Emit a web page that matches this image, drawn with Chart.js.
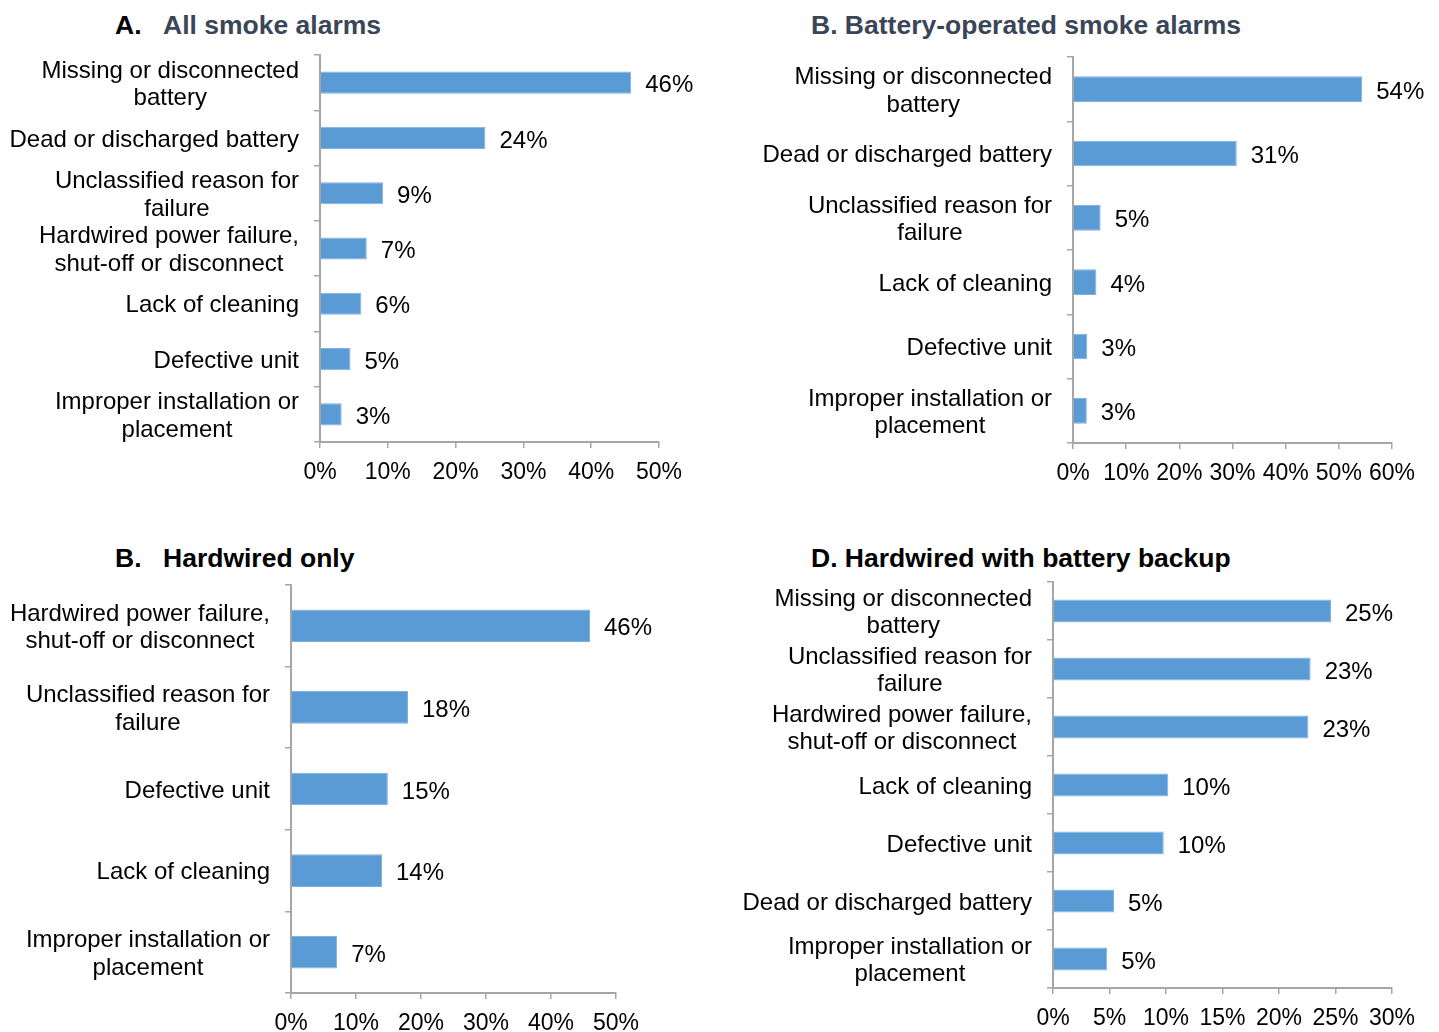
<!DOCTYPE html>
<html>
<head>
<meta charset="utf-8">
<script src="https://cdn.jsdelivr.net/npm/chart.js@4.4.1/dist/chart.umd.min.js"></script>
<style>
  body { margin: 0; background: #fff; }
  #wrap { position: relative; width: 1439px; height: 1032px; overflow: hidden; font-family: "Liberation Sans", Arial, sans-serif; }
  canvas { position: absolute; }
  .t { position: absolute; font-weight: bold; font-size: 26.5px; line-height: 30px; white-space: nowrap; }
  .slate { color: #3a4658; }
  .blk { color: #000; }
</style>
</head>
<body>
<div id="wrap">
  <span class="t blk" style="left:115px;top:10px">A.</span>
  <span class="t slate" style="left:163px;top:10px">All smoke alarms</span>
  <span class="t slate" style="left:811px;top:10px">B. Battery-operated smoke alarms</span>
  <span class="t blk" style="left:115px;top:543px">B.</span>
  <span class="t blk" style="left:163px;top:543px">Hardwired only</span>
  <span class="t blk" style="left:811px;top:543px">D. Hardwired with battery backup</span>

  <canvas id="cA" width="720" height="440" style="left:0;top:50px"></canvas>
  <canvas id="cB" width="709" height="440" style="left:730px;top:50px"></canvas>
  <canvas id="cC" width="720" height="457" style="left:0;top:575px"></canvas>
  <canvas id="cD" width="709" height="457" style="left:730px;top:575px"></canvas>
</div>
<script>
// A. All smoke alarms
const catsA = [["Missing or disconnected", "battery"], "Dead or discharged battery", ["Unclassified reason for", "failure"],
    ["Hardwired power failure,", "shut-off or disconnect"], "Lack of cleaning", "Defective unit", ["Improper installation or", "placement"]];
const valsA = [45.9, 24.4, 9.3, 6.9, 6.1, 4.5, 3.2];
const maxA = 50, stepA = 10;

// B. Battery-operated smoke alarms
const catsB = [["Missing or disconnected", "battery"], "Dead or discharged battery", ["Unclassified reason for", "failure"],
    "Lack of cleaning", "Defective unit", ["Improper installation or", "placement"]];
const valsB = [54.4, 30.8, 5.2, 4.4, 2.7, 2.6];
const maxB = 60, stepB = 10;

// B. Hardwired only
const catsC = [["Hardwired power failure,", "shut-off or disconnect"], ["Unclassified reason for", "failure"],
    "Defective unit", "Lack of cleaning", ["Improper installation or", "placement"]];
const valsC = [46.0, 18.0, 14.9, 14.0, 7.1];
const maxC = 50, stepC = 10;

// D. Hardwired with battery backup
const catsD = [["Missing or disconnected", "battery"], ["Unclassified reason for", "failure"],
    ["Hardwired power failure,", "shut-off or disconnect"], "Lack of cleaning", "Defective unit",
    "Dead or discharged battery", ["Improper installation or", "placement"]];
const valsD = [24.6, 22.8, 22.6, 10.2, 9.8, 5.4, 4.8];
const maxD = 30, stepD = 5;

const barColor = '#5b9bd5';
const axisColor = '#a6a6a6';
const fontFam = '"Liberation Sans", Arial, sans-serif';

// category labels: longest line right-aligned to the axis, lines centred on each other
const yLabels = {
    id: 'yLabels',
    afterDraw(chart) {
        const ctx = chart.ctx;
        const sc = chart.scales.y;
        ctx.save();
        ctx.font = '24px ' + fontFam;
        ctx.fillStyle = '#000';
        ctx.textAlign = 'center';
        ctx.textBaseline = 'middle';
        chart.data.labels.forEach(function(lab, i) {
            const lines = Array.isArray(lab) ? lab : [lab];
            let w = 0;
            lines.forEach(function(l) { w = Math.max(w, ctx.measureText(l).width); });
            const cx = sc.right - 21 - w / 2;
            const cy = sc.getPixelForValue(i) + 2;
            lines.forEach(function(l, j) {
                ctx.fillText(l, cx, cy + (j - (lines.length - 1) / 2) * 27.5);
            });
        });
        ctx.restore();
    }
};

// value labels past the end of each bar
const valLabels = {
    id: 'valLabels',
    afterDatasetsDraw(chart) {
        const ctx = chart.ctx;
        const meta = chart.getDatasetMeta(0);
        const vals = chart.data.datasets[0].data;
        ctx.save();
        ctx.font = '24px ' + fontFam;
        ctx.fillStyle = '#000';
        ctx.textAlign = 'left';
        ctx.textBaseline = 'middle';
        meta.data.forEach(function(bar, i) {
            ctx.fillText(Math.round(vals[i]) + '%', bar.x + 14, bar.y + 3);
        });
        ctx.restore();
    }
};

function makeChart(id, cats, vals, max, step, yW, xH, padTop, padRight) {
    return new Chart(document.getElementById(id), {
        type: 'bar',
        data: {
            labels: cats,
            datasets: [{
                data: vals,
                backgroundColor: barColor,
                borderColor: '#7fb2e0',
                borderWidth: 1,
                barPercentage: 0.4,
                categoryPercentage: 1.0
            }]
        },
        options: {
            indexAxis: 'y',
            responsive: false,
            animation: false,
            layout: { padding: { top: padTop, right: padRight, left: 0, bottom: 0 } },
            plugins: { legend: { display: false }, tooltip: { enabled: false } },
            scales: {
                y: {
                    type: 'category',
                    offset: true,
                    grid: { display: true, drawOnChartArea: false, offset: true, tickLength: 6, color: axisColor, lineWidth: 1.5 },
                    border: { color: axisColor, width: 2 },
                    ticks: { display: false },
                    afterFit: function(s) { s.width = yW; }
                },
                x: {
                    min: 0,
                    max: max,
                    grid: { display: true, drawOnChartArea: false, tickLength: 6, color: axisColor, lineWidth: 1.5 },
                    border: { color: axisColor, width: 2 },
                    ticks: {
                        stepSize: step,
                        padding: 11,
                        color: '#000',
                        font: { family: fontFam, size: 23 },
                        maxRotation: 0,
                        autoSkip: false,
                        callback: function(v) { return v + '%'; }
                    },
                    afterFit: function(s) { s.height = xH; }
                }
            }
        },
        plugins: [yLabels, valLabels]
    });
}

makeChart('cA', catsA, valsA, maxA, stepA, 320, 48, 5, 61);
makeChart('cB', catsB, valsB, maxB, stepB, 343, 47, 7, 47);
makeChart('cC', catsC, valsC, maxC, stepC, 291, 39, 10, 104);
makeChart('cD', catsD, valsD, maxD, stepD, 323, 44, 7, 47);
</script>
</body>
</html>
